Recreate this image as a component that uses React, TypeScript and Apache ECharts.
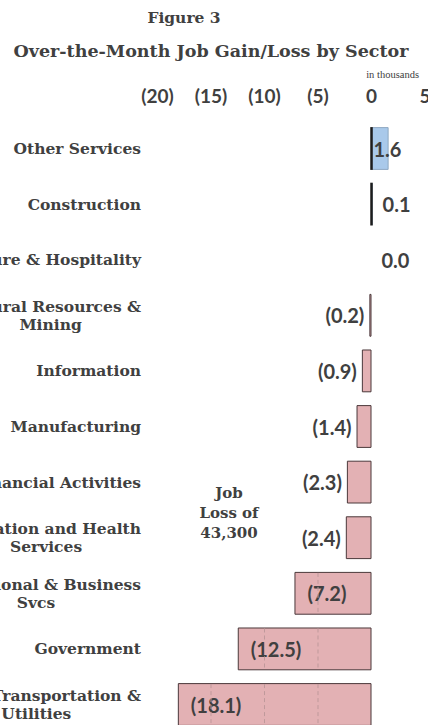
import React, { useEffect, useRef } from "react";
import * as echarts from "echarts";

const categories: string[] = [
  "Other Services",
  "Construction",
  "Leisure & Hospitality",
  "Natural Resources &\nMining",
  "Information",
  "Manufacturing",
  "Financial Activities",
  "Education and Health\nServices",
  "Professional & Business\nSvcs",
  "Government",
  "Trade, Transportation &\nUtilities",
];
const values: number[] = [1.6, 0.1, 0.0, -0.2, -0.9, -1.4, -2.3, -2.4, -7.2, -12.5, -18.1];
const axisMin = -20;
const axisMax = 5;
const axisStep = 5;
const gridTicks: number[] = [-5, -10, -15, -20];
const figureText = "Figure 3";
const titleText = "Over-the-Month Job Gain/Loss by Sector";
const unitText = "in thousands";
const noteText = "Job\nLoss of\n43,300";

const SERIF = "'DejaVu Serif', 'Liberation Serif', serif";
const SANS = "Lato, 'Open Sans', sans-serif";
const TEXT = "#404040";
const BAR_FRAC = 0.77;

const fmt = (v: number) => (v < 0 ? `(${Math.abs(v).toFixed(1)})` : v.toFixed(1));

export default function App() {
  const ref = useRef<HTMLDivElement>(null);
  useEffect(() => {
    if (!ref.current) return;
    const chart = echarts.init(ref.current, undefined, { renderer: "svg" });

    const labelFor = (v: number) => {
      const base = { show: true, formatter: () => fmt(v), fontFamily: SANS, fontWeight: "bold" as const, fontSize: 20, color: TEXT };
      if (v <= -5) return { ...base, position: "insideLeft", distance: 13 };
      if (v < 0) return { ...base, position: "left", distance: 5 };
      if (v >= 1) return { ...base, position: "insideLeft", distance: 2 };
      return { ...base, position: "right", distance: 10 };
    };

    const barData = values.map((v) => ({
      value: v,
      itemStyle:
        v < 0
          ? { color: "#e3b1b4", borderColor: "#4a383a", borderWidth: 1 }
          : v > 0
          ? { color: "#a9c9ea", borderColor: "#8fa8c2", borderWidth: 1 }
          : { color: "rgba(0,0,0,0)", borderWidth: 0 },
      label: labelFor(v),
    }));

    chart.setOption({
      animation: false,
      grid: { left: 157.5, right: 3, top: 120.7, bottom: 7.7, containLabel: false, outerBoundsMode: "none" },
      xAxis: {
        type: "value",
        position: "top",
        min: axisMin,
        max: axisMax,
        interval: axisStep,
        axisLine: { show: false },
        axisTick: { show: false },
        splitLine: { show: false },
        axisLabel: {
          margin: 16,
          fontFamily: SANS,
          fontWeight: "bold",
          fontSize: 19,
          color: TEXT,
          formatter: (v: number) => (v < 0 ? `(${Math.abs(v)})` : `${v}`),
        },
      },
      yAxis: {
        type: "category",
        inverse: true,
        data: categories,
        axisLine: { show: false },
        axisTick: { show: false },
        splitLine: { show: false },
        axisLabel: {
          margin: 16.5,
          align: "right",
          formatter: (val: string) => val.split("\n").map((l) => `{c|${l}}`).join("\n"),
          rich: {
            c: { align: "center", fontFamily: SERIF, fontWeight: "bold", fontSize: 15.5, color: TEXT, lineHeight: 18 },
          },
        },
      },
      series: [
        {
          type: "bar",
          data: barData,
          barWidth: `${BAR_FRAC * 100}%`,
          silent: true,
          z: 2,
        },
        {
          type: "custom",
          silent: true,
          z: 3,
          data: values.map((v, i) => [v, i]),
          encode: { x: 0, y: 1 },
          renderItem: (params: any, api: any) => {
            const v = api.value(0);
            const idx = api.value(1);
            const band = api.size([0, 1])[1];
            const h = band * BAR_FRAC;
            const c = api.coord([0, idx]);
            const children: any[] = [];
            gridTicks.forEach((t) => {
              if (v < t) {
                const p = api.coord([t, idx]);
                children.push({
                  type: "line",
                  shape: { x1: p[0], y1: c[1] - h / 2 + 1, x2: p[0], y2: c[1] + h / 2 - 1 },
                  style: { stroke: "#bf999b", lineWidth: 1, lineDash: [4, 3] },
                });
              }
            });
            if (v > 0) {
              children.push({
                type: "line",
                shape: { x1: c[0], y1: c[1] - h / 2, x2: c[0], y2: c[1] + h / 2 },
                style: { stroke: "#1c1c1c", lineWidth: 2.5 },
              });
            }
            return { type: "group", children };
          },
        },
      ],
      graphic: [
        {
          type: "text",
          x: 184,
          y: 17,
          style: { text: figureText, align: "center", verticalAlign: "middle", font: `bold 15.5px ${SERIF}`, fill: TEXT },
        },
        {
          type: "text",
          x: 211,
          y: 51,
          style: { text: titleText, align: "center", verticalAlign: "middle", font: `bold 17.5px ${SERIF}`, fill: TEXT },
        },
        {
          type: "text",
          x: 419,
          y: 74,
          style: { text: unitText, align: "right", verticalAlign: "middle", font: `10.5px 'Liberation Serif', serif`, fill: TEXT },
        },
        {
          type: "text",
          x: 229,
          y: 513,
          style: { text: noteText, align: "center", verticalAlign: "middle", font: `bold 15px ${SERIF}`, lineHeight: 20, fill: TEXT },
        },
      ],
    });
    return () => chart.dispose();
  }, []);

  return (
    <div style={{ position: "fixed", left: 0, top: 0, width: 428, height: 725, overflow: "hidden", background: "#fff" }}>
      <div ref={ref} style={{ width: 428, height: 740 }} />
    </div>
  );
}
